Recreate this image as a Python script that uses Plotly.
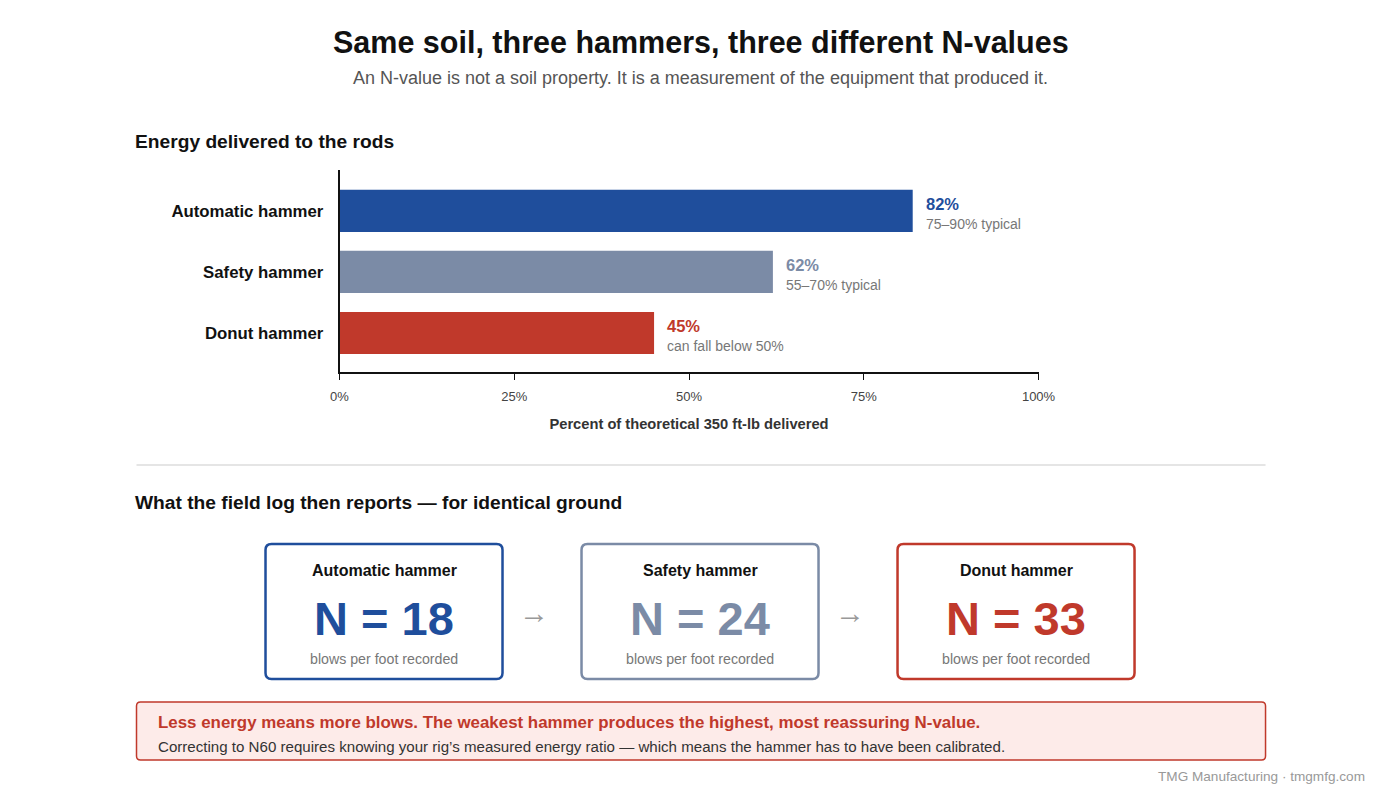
import plotly.graph_objects as go

W, H = 1400, 790

hammers = ["Automatic hammer", "Safety hammer", "Donut hammer"]
energy_pct = [82, 62, 45]
energy_notes = ["75–90% typical", "55–70% typical", "can fall below 50%"]
n_values = [18, 24, 33]
colors = ["#1f4e9c", "#7b8ba6", "#c0392b"]
x_ticks = [0, 25, 50, 75, 100]

FONT = "Liberation Sans, Arial, sans-serif"

# the capture squeezes the page a little horizontally; undo it here
SX, OX = 0.9814, 8.5


def X(px):
    return (px - OX) / SX / W


def Y(py):
    return 1 - py / H


def rounded_rect(x0, y0, x1, y1, r):
    # pixel coords in, paper-coordinate svg path out
    p = lambda a, b: f"{X(a):.5f},{Y(b):.5f}"
    return (f"M {p(x0 + r, y0)} L {p(x1 - r, y0)} Q {p(x1, y0)} {p(x1, y0 + r)} "
            f"L {p(x1, y1 - r)} Q {p(x1, y1)} {p(x1 - r, y1)} "
            f"L {p(x0 + r, y1)} Q {p(x0, y1)} {p(x0, y1 - r)} "
            f"L {p(x0, y0 + r)} Q {p(x0, y0)} {p(x0 + r, y0)} Z")


fig = go.Figure()

fig.add_trace(go.Bar(
    x=energy_pct, y=hammers, orientation="h",
    marker=dict(color=colors, line=dict(width=0)),
    width=0.69, hoverinfo="skip", showlegend=False,
))

annotations = []
shapes = []

# labels at bar ends
for h, v, note, c in zip(hammers, energy_pct, energy_notes, colors):
    annotations.append(dict(x=v, y=h, xref="x", yref="y", text=f"<b>{v}%</b>",
                            xanchor="left", yanchor="middle", xshift=11, yshift=7,
                            showarrow=False, font=dict(size=16.5, color=c)))
    annotations.append(dict(x=v, y=h, xref="x", yref="y", text=note,
                            xanchor="left", yanchor="middle", xshift=11, yshift=-13,
                            showarrow=False, font=dict(size=14, color="#777")))


def text(px, py, s, size, color, anchor="left", bold=False):
    # annotation boxes carry ~3px of padding on the anchored side
    if anchor == "left":
        px -= 3
    annotations.append(dict(x=X(px), y=Y(py), xref="paper", yref="paper",
                            text=f"<b>{s}</b>" if bold else s,
                            xanchor=anchor, yanchor="middle", showarrow=False,
                            font=dict(size=size, color=color)))


text(700, 42, "Same soil, three hammers, three different N-values", 30.5, "#111", "center", True)
text(700, 78, "An N-value is not a soil property. It is a measurement of the equipment that produced it.",
     18, "#555", "center")
text(135, 142, "Energy delivered to the rods", 19.2, "#111", bold=True)
text(135, 503, "What the field log then reports — for identical ground", 19.2, "#111", bold=True)

# separator
shapes.append(dict(type="line", xref="paper", yref="paper", x0=X(136), x1=X(1265),
                   y0=Y(465), y1=Y(465), line=dict(color="#dddddd", width=1.5)))

# cards
card_w, card_gap = 237, 79
for i, (h, n, c) in enumerate(zip(hammers, n_values, colors)):
    x0 = 265 + i * (card_w + card_gap)
    x1 = x0 + card_w
    cx = (x0 + x1) / 2
    shapes.append(dict(type="path", xref="paper", yref="paper",
                       path=rounded_rect(x0, 544, x1, 679, 6),
                       line=dict(color=c, width=2.5), fillcolor="white"))
    text(cx, 570, h, 16, "#111", "center", True)
    text(cx, 618, f"N = {n}", 47, c, "center", True)
    text(cx, 659, "blows per foot recorded", 14.2, "#777", "center")
    if i < len(hammers) - 1:
        text(x1 + 31, 612, "→", 30, "#999", "center")

# callout
shapes.append(dict(type="path", xref="paper", yref="paper",
                   path=rounded_rect(136, 702, 1265, 760, 4),
                   line=dict(color="#c0392b", width=1.5), fillcolor="#fdebe9"))
text(158, 722, "Less energy means more blows. The weakest hammer produces the highest, most reassuring N-value.",
     16.9, "#c0392b", bold=True)
text(158, 746, "Correcting to N60 requires knowing your rig’s measured energy ratio — which means the hammer has to have been calibrated.",
     15.1, "#333")
text(1366, 776, "TMG Manufacturing · tmgmfg.com", 13.6, "#999", "right")

fig.update_layout(
    width=W, height=H,
    margin=dict(l=0, r=0, t=0, b=0),
    paper_bgcolor="white", plot_bgcolor="white",
    font=dict(family=FONT, color="#111"),
    annotations=annotations, shapes=shapes,
    xaxis=dict(domain=[X(339), X(1038)], range=[0, 100], tickvals=x_ticks,
               ticktext=[f"{t}%" for t in x_ticks], ticks="outside", ticklen=6,
               tickcolor="#111", showline=True, linecolor="#111", linewidth=1.5,
               showgrid=False, zeroline=False, tickfont=dict(size=13, color="#444"),
               ticklabelstandoff=6,
               title=dict(text="<b>Percent of theoretical 350 ft-lb delivered</b>",
                          font=dict(size=14.7, color="#333"), standoff=15),
               fixedrange=True),
    yaxis=dict(domain=[Y(372), Y(170)], categoryorder="array", categoryarray=hammers,
               range=[2.64, -0.67], showline=True, linecolor="#111", linewidth=1.5,
               showgrid=False, zeroline=False, ticks="", ticklabelstandoff=11,
               tickfont=dict(size=16.8, color="#111", family=FONT, weight="bold"),
               fixedrange=True),
)

# drop the default body margin so the figure starts at the window corner
fig.write_html("out.html", config={"displayModeBar": False},
               post_script="document.body.style.margin='0';document.body.style.overflow='hidden';")
